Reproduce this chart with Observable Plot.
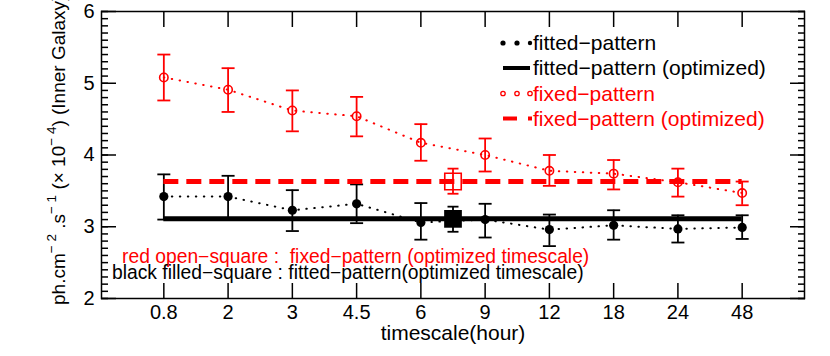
<!DOCTYPE html>
<html><head><meta charset="utf-8">
<script src="https://cdn.jsdelivr.net/npm/d3@7"></script>
<script src="https://cdn.jsdelivr.net/npm/@observablehq/plot@0.6"></script>
<style>body{margin:0;background:#fff}</style>
</head><body><div id="chart"></div>
<script>
// ---- data ----
const timescales = ["0.8","2","3","4.5","6","9","12","18","24","48"];
const fixedValue  = [5.08,4.91,4.62,4.54,4.17,4.00,3.78,3.74,3.62,3.47];
const fixedLow    = [4.76,4.60,4.33,4.26,3.92,3.77,3.57,3.52,3.42,3.30];
const fixedHigh   = [5.40,5.21,4.90,4.81,4.43,4.23,4.00,3.93,3.81,3.63];
const fittedValue = [3.42,3.42,3.23,3.32,3.06,3.10,2.96,3.02,2.97,2.99];
const fittedLow   = [3.10,3.12,2.94,3.05,2.82,2.85,2.73,2.82,2.78,2.83];
const fittedHigh  = [3.73,3.71,3.51,3.59,3.33,3.32,3.17,3.23,3.16,3.16];
// optimized timescale (position between "6" and "9")
const optimizedPos = 5.5;
const fixedOptValue = 3.63,  fixedOptLow = 3.46,  fixedOptHigh = 3.81;
const fittedOptValue = 3.11, fittedOptLow = 2.93, fittedOptHigh = 3.28;
const yMajor = [2,3,4,5,6];
const yMinor = d3.range(20, 61).map(d => d / 10);
const legendLabels = ["fitted\u2212pattern","fitted\u2212pattern (optimized)","fixed\u2212pattern","fixed\u2212pattern (optimized)"];
const legendColors = ["black","black","red","red"];
const notes = ["red open\u2212square :  fixed\u2212pattern (optimized timescale)","black filled\u2212square : fitted\u2212pattern(optimized timescale)"];
const noteColors = ["red","black"];

// ---- build ----
const idx = timescales.map((_, i) => i + 1);
const fixed = idx.map((x, i) => ({x, v: fixedValue[i], lo: fixedLow[i], hi: fixedHigh[i]}));
const fitted = idx.map((x, i) => ({x, v: fittedValue[i], lo: fittedLow[i], hi: fittedHigh[i]}));
const fixedOpt = [{x: optimizedPos, v: fixedOptValue, lo: fixedOptLow, hi: fixedOptHigh}];
const fittedOpt = [{x: optimizedPos, v: fittedOptValue, lo: fittedOptLow, hi: fittedOptHigh}];
const cap = {draw(ctx, size) { const r = Math.sqrt(size / Math.PI); ctx.moveTo(-r, 0); ctx.lineTo(r, 0); }};
const x0 = idx[0], x1 = idx[idx.length - 1];

function errorBars(data, color, w = 6.5) {
  return [
    Plot.ruleX(data, {x: "x", y1: "lo", y2: "hi", stroke: color, strokeWidth: 1.8}),
    Plot.dot(data, {x: "x", y: "lo", symbol: cap, r: w, stroke: color, strokeWidth: 1.8}),
    Plot.dot(data, {x: "x", y: "hi", symbol: cap, r: w, stroke: color, strokeWidth: 1.8})
  ];
}

const chart = Plot.plot({
  width: 830, height: 356,
  marginLeft: 101, marginRight: 26, marginTop: 11, marginBottom: 58,
  x: {domain: [0.03, 10.97]},
  y: {domain: [2, 6]},
  style: {fontFamily: "'Liberation Sans', Arial, sans-serif", fontSize: "19px", color: "black", background: "white"},
  marks: [
    Plot.axisY(yMinor, {anchor: "left", tickSize: -7, fill: "none", label: null, strokeWidth: 1.5}),
    Plot.axisY(yMinor, {anchor: "right", tickSize: -7, fill: "none", label: null, strokeWidth: 1.5}),
    Plot.axisY(yMajor, {anchor: "left", tickSize: -15, fill: "none", label: null, strokeWidth: 1.5}),
    Plot.axisY(yMajor, {anchor: "right", tickSize: -15, fill: "none", label: null, strokeWidth: 1.5}),
    Plot.axisY(yMajor, {anchor: "left", tickSize: 0, tickPadding: 7, label: null, fontSize: 20, tickFormat: d3.format("d")}),
    Plot.axisX(idx, {anchor: "bottom", tickSize: -15, fill: "none", label: null, strokeWidth: 1.5}),
    Plot.axisX(idx, {anchor: "top", tickSize: -15, fill: "none", label: null, strokeWidth: 1.5}),
    Plot.axisX(idx, {anchor: "bottom", tickSize: 0, tickPadding: 6, label: null, fontSize: 20, tickFormat: i => timescales[i - 1]}),
    Plot.text(["timescale(hour)"], {frameAnchor: "bottom", dy: 41, fontSize: 21}),
    Plot.frame({strokeWidth: 1.5}),
    // dotted series lines
    Plot.line(fixed, {x: "x", y: "v", stroke: "red", strokeWidth: 2, strokeDasharray: "0.5,7.5", strokeLinecap: "round"}),
    Plot.line(fitted, {x: "x", y: "v", stroke: "black", strokeWidth: 2, strokeDasharray: "0.5,7.5", strokeLinecap: "round"}),
    ...errorBars(fixed, "red"),
    ...errorBars(fitted, "black"),
    Plot.dot(fixed, {x: "x", y: "v", r: 4.2, stroke: "red", strokeWidth: 1.6, fill: "none"}),
    Plot.dot(fitted, {x: "x", y: "v", r: 4.6, fill: "black", stroke: "none"}),
    // optimized constant levels
    Plot.ruleY([fittedOptValue], {x1: x0, x2: x1, stroke: "black", strokeWidth: 5}),
    Plot.ruleY([fixedOptValue], {x1: x0, x2: x1, stroke: "red", strokeWidth: 5, strokeDasharray: "15,8"}),
    ...errorBars(fixedOpt, "red", 5.5),
    ...errorBars(fittedOpt, "black", 5.5),
    Plot.dot(fixedOpt, {x: "x", y: "v", symbol: "square", r: 9.3, stroke: "red", strokeWidth: 1.6, fill: "none"}),
    Plot.dot(fittedOpt, {x: "x", y: "v", symbol: "square", r: 10, fill: "black", stroke: "none"})
  ]
});
document.getElementById("chart").appendChild(chart);
const svg = d3.select(chart);

// annotations (two stacked lines inside the plot)
const noteX = [122, 112], noteY = [263, 278.5];
notes.forEach((t, i) => {
  svg.append("text").attr("x", noteX[i]).attr("y", noteY[i]).attr("text-anchor", "start")
    .attr("font-size", 19.3).attr("fill", noteColors[i]).text(t);
});

// y-axis title with superscripts
const ylab = svg.append("text").attr("transform", "translate(65,305) rotate(-90)")
  .attr("font-size", 19).attr("fill", "black").attr("text-anchor", "start");
ylab.append("tspan").text("ph.cm");
ylab.append("tspan").attr("dy", -9).attr("font-size", 13.5).text("\u2212 2");
ylab.append("tspan").attr("dy", 9).text(" .s");
ylab.append("tspan").attr("dy", -9).attr("font-size", 13.5).text("\u2212 1");
ylab.append("tspan").attr("dy", 9).text(" (\u00d7 10");
ylab.append("tspan").attr("dy", -9).attr("font-size", 13.5).text("\u2212 4");
ylab.append("tspan").attr("dy", 9).text(") (Inner Galaxy)");

// legend
const lg = svg.append("g").attr("font-size", 21).attr("text-anchor", "start");
const rowY = [43, 68, 93.5, 118.5];
legendLabels.forEach((t, i) => {
  const y = rowY[i], c = legendColors[i];
  lg.append("text").attr("x", 533).attr("y", y).attr("dy", "0.35em").attr("fill", c).text(t);
  if (i === 0) [503, 517, 530].forEach((cx, k) => lg.append("circle").attr("cx", cx).attr("cy", y).attr("r", k < 2 ? 2.6 : 2.2).attr("fill", c));
  if (i === 1) lg.append("line").attr("x1", 503).attr("x2", 530).attr("y1", y).attr("y2", y).attr("stroke", c).attr("stroke-width", 4);
  if (i === 2) [503, 517, 530].forEach(cx => lg.append("circle").attr("cx", cx).attr("cy", y).attr("r", 2.2).attr("fill", "none").attr("stroke", c).attr("stroke-width", 1.3));
  if (i === 3) {
    lg.append("line").attr("x1", 503).attr("x2", 517).attr("y1", y).attr("y2", y).attr("stroke", c).attr("stroke-width", 4);
    lg.append("rect").attr("x", 528).attr("y", y - 2).attr("width", 4).attr("height", 4).attr("fill", c);
  }
});
</script>
</body></html>
